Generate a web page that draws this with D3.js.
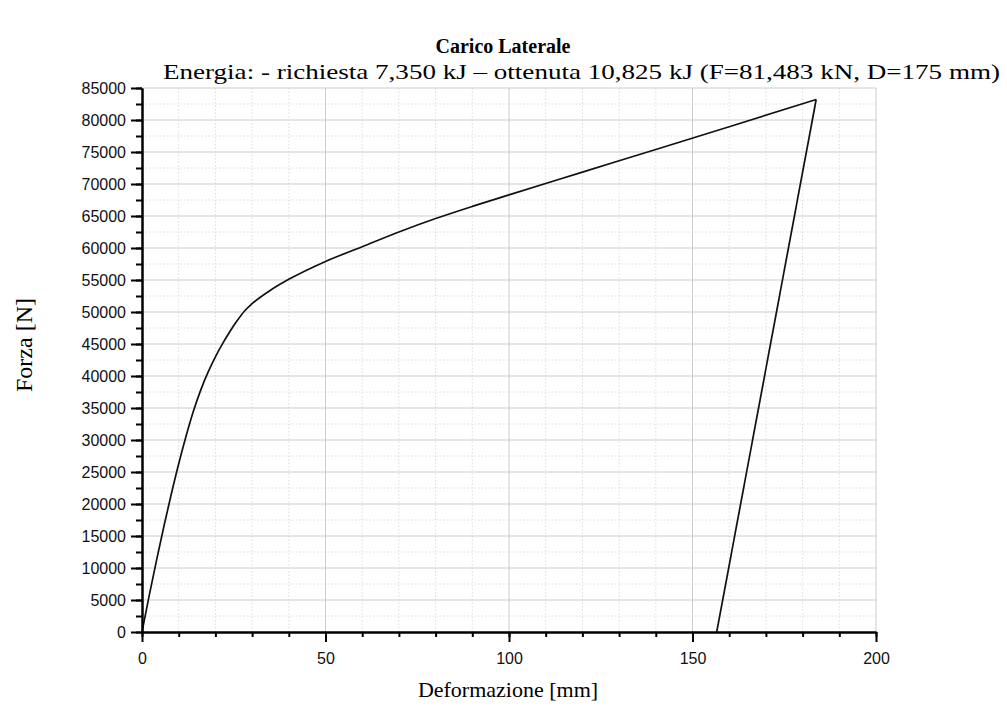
<!DOCTYPE html>
<html>
<head>
<meta charset="utf-8">
<script src="https://cdn.jsdelivr.net/npm/d3@7"></script>
<style>
  body { margin: 0; background: #fff; }
</style>
</head>
<body>
<div id="grafico"></div>
<script>
// Dati: curva di carico e scarico
const defCarico = [0, 2, 4, 6, 8, 10, 12, 14, 16, 18, 20, 22, 24, 26, 28, 30, 35, 40, 50, 60, 70, 80, 90, 100, 120, 140, 160, 183.7];
const forzaCarico = [0, 5800, 11300, 16600, 21600, 26300, 30600, 34500, 37800, 40600, 43000, 45100, 47000, 48700, 50200, 51300, 53400, 55100, 57900, 60200, 62500, 64600, 66500, 68300, 71850, 75400, 78950, 83200];
const defScarico = [183.7, 156.6];
const forzaScarico = [83200, 0];

const xTicks = [0, 50, 100, 150, 200];
const yTicks = d3.range(0, 85001, 5000);

const titolo = "Carico Laterale";
const sottotitolo = "Energia: - richiesta 7,350 kJ \u2013 ottenuta 10,825 kJ (F=81,483 kN, D=175 mm)";

const width = 1007;
const height = 715;
const margin = { top: 88, right: 131, bottom: 83, left: 142 };
const w = width - margin.left - margin.right;
const h = height - margin.top - margin.bottom;

const svg = d3.select("#grafico")
  .append("svg")
  .attr("width", width)
  .attr("height", height);

const g = svg.append("g")
  .attr("transform", `translate(${margin.left},${margin.top})`);

const x = d3.scaleLinear().domain([0, 200]).range([0, w]);
const y = d3.scaleLinear().domain([0, 85000]).range([h, 0]);

// Griglia secondaria (tratteggiata)
const xMinor = d3.range(0, 201, 10).filter(v => v % 50 !== 0);
const yMinor = d3.range(2500, 85000, 5000);

g.append("g").selectAll("line")
  .data(xMinor)
  .enter().append("line")
  .attr("x1", d => x(d)).attr("x2", d => x(d))
  .attr("y1", 0).attr("y2", h)
  .attr("stroke", "#dcdcdc")
  .attr("stroke-dasharray", "1.5,2");

g.append("g").selectAll("line")
  .data(yMinor)
  .enter().append("line")
  .attr("x1", 0).attr("x2", w)
  .attr("y1", d => y(d)).attr("y2", d => y(d))
  .attr("stroke", "#dcdcdc")
  .attr("stroke-dasharray", "1.5,2");

// Griglia principale
g.append("g").selectAll("line")
  .data(xTicks.slice(1))
  .enter().append("line")
  .attr("x1", d => x(d)).attr("x2", d => x(d))
  .attr("y1", 0).attr("y2", h)
  .attr("stroke", "#cccccc");

g.append("g").selectAll("line")
  .data(yTicks.slice(1))
  .enter().append("line")
  .attr("x1", 0).attr("x2", w)
  .attr("y1", d => y(d)).attr("y2", d => y(d))
  .attr("stroke", "#cccccc");

// Curve
const linea = d3.line().x(d => x(d[0])).y(d => y(d[1])).curve(d3.curveMonotoneX);
const linea2 = d3.line().x(d => x(d[0])).y(d => y(d[1]));

g.append("path")
  .datum(defCarico.map((d, i) => [d, forzaCarico[i]]))
  .attr("d", linea)
  .attr("fill", "none")
  .attr("stroke", "#111")
  .attr("stroke-width", 1.7);

g.append("path")
  .datum(defScarico.map((d, i) => [d, forzaScarico[i]]))
  .attr("d", linea2)
  .attr("fill", "none")
  .attr("stroke", "#111")
  .attr("stroke-width", 1.7);

// Assi
const stileAsse = sel => {
  sel.select(".domain").attr("stroke", "#000").attr("stroke-width", 2);
  sel.selectAll(".tick line").attr("stroke", "#000").attr("stroke-width", 2);
  sel.selectAll("text")
    .attr("font-family", "'Liberation Sans', Arial, sans-serif")
    .attr("font-size", "16px")
    .attr("fill", "#111");
};

g.append("g")
  .attr("transform", `translate(0,${h})`)
  .call(d3.axisBottom(x).tickValues(d3.range(0, 201, 10)).tickFormat("").tickSize(5).tickSizeOuter(0))
  .call(stileAsse);

g.append("g")
  .attr("transform", `translate(0,${h})`)
  .call(d3.axisBottom(x).tickValues(xTicks).tickSize(10).tickSizeOuter(0).tickPadding(11))
  .call(stileAsse);

g.append("g")
  .call(d3.axisLeft(y).tickValues(d3.range(0, 85001, 2500)).tickFormat("").tickSize(6).tickSizeOuter(0))
  .call(stileAsse);

g.append("g")
  .call(d3.axisLeft(y).tickValues(yTicks).tickFormat(d3.format("d")).tickSize(11).tickSizeOuter(0).tickPadding(5))
  .call(stileAsse);

// Testi
const serif = "'Liberation Serif', 'Times New Roman', serif";

svg.append("text")
  .attr("x", 503)
  .attr("y", 53)
  .attr("text-anchor", "middle")
  .attr("font-family", serif)
  .attr("font-weight", "bold")
  .attr("font-size", "20px")
  .text(titolo);

svg.append("text")
  .attr("x", 163)
  .attr("y", 79)
  .attr("font-family", serif)
  .attr("font-size", "22px")
  .attr("textLength", 837)
  .attr("lengthAdjust", "spacingAndGlyphs")
  .text(sottotitolo);

svg.append("text")
  .attr("x", 508)
  .attr("y", 697)
  .attr("text-anchor", "middle")
  .attr("font-family", serif)
  .attr("font-size", "22px")
  .text("Deformazione [mm]");

svg.append("text")
  .attr("transform", "translate(32,345) rotate(-90)")
  .attr("text-anchor", "middle")
  .attr("font-family", serif)
  .attr("font-size", "24px")
  .text("Forza [N]");
</script>
</body>
</html>
